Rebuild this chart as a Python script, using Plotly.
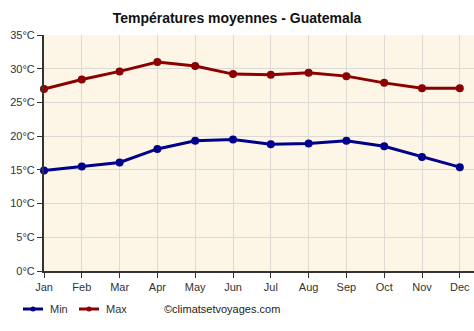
import plotly.graph_objects as go

# Monthly average temperatures, Guatemala (°C)
months = ["Jan", "Feb", "Mar", "Apr", "May", "Jun",
          "Jul", "Aug", "Sep", "Oct", "Nov", "Dec"]
temp_min = [14.9, 15.5, 16.1, 18.1, 19.3, 19.5, 18.8, 18.9, 19.3, 18.5, 16.9, 15.4]
temp_max = [27.0, 28.4, 29.6, 31.0, 30.4, 29.2, 29.1, 29.4, 28.9, 27.9, 27.1, 27.1]
y_ticks = [0, 5, 10, 15, 20, 25, 30, 35]

MIN_COLOR = "#00008B"
MAX_COLOR = "#8B0000"
FONT = "Liberation Sans, Arial, sans-serif"

W, H = 474, 331
L, R, T, B = 44, 0, 35, 60
PW, PH = W - L - R, H - T - B

fig = go.Figure()
x_idx = list(range(len(months)))
for name, vals, color in [("Min", temp_min, MIN_COLOR), ("Max", temp_max, MAX_COLOR)]:
    fig.add_trace(go.Scatter(
        x=x_idx, y=vals, name=name, mode="lines+markers",
        line=dict(color=color, width=3),
        marker=dict(color=color, size=8),
        showlegend=False, cliponaxis=False,
    ))

px_per_month = 37.8
x_max = PW / px_per_month

fig.update_layout(
    width=W, height=H,
    margin=dict(l=L, r=R, t=T, b=B),
    paper_bgcolor="white",
    plot_bgcolor="#FDF5E6",
    font=dict(family=FONT, size=11, color="#333333"),
    title=dict(text="<b>Températures moyennes - Guatemala</b>",
               x=0.5, xanchor="center", y=1 - 18 / H, yanchor="middle",
               font=dict(size=14, color="#111111")),
    xaxis=dict(
        range=[0, x_max], tickmode="array", tickvals=x_idx, ticktext=months,
        showgrid=True, gridcolor="#DDDAD5", gridwidth=1,
        showline=True, linecolor="#333333", linewidth=2,
        ticks="outside", ticklen=5, tickcolor="#333333", tickwidth=1,
        zeroline=False, fixedrange=True,
    ),
    yaxis=dict(
        range=[0, 35], tickmode="array", tickvals=y_ticks,
        ticktext=[f"{v}°C" for v in y_ticks],
        showgrid=True, gridcolor="#DDDAD5", gridwidth=1,
        showline=True, linecolor="#333333", linewidth=2,
        ticks="outside", ticklen=5, tickcolor="#333333", tickwidth=1,
        zeroline=False, fixedrange=True,
    ),
)

# Legend drawn along the bottom, positioned in page pixels
def pxx(x):
    return (x - L) / PW

def pxy(y):
    return (H - B - y) / PH

legend_row = 309
for (x0, x1, label, color) in [(23, 43, "Min", MIN_COLOR), (79, 99, "Max", MAX_COLOR)]:
    fig.add_shape(type="line", xref="paper", yref="paper",
                  x0=pxx(x0), x1=pxx(x1), y0=pxy(legend_row), y1=pxy(legend_row),
                  line=dict(color=color, width=3))
    cx, r = (x0 + x1) / 2, 2.5
    fig.add_shape(type="circle", xref="paper", yref="paper",
                  x0=pxx(cx - r), x1=pxx(cx + r),
                  y0=pxy(legend_row + r), y1=pxy(legend_row - r),
                  fillcolor=color, line=dict(color=color, width=0))
    fig.add_annotation(text=label, xref="paper", yref="paper",
                       x=pxx(x1 + 5), y=pxy(legend_row), xanchor="left", yanchor="middle",
                       showarrow=False, font=dict(size=11, color="#333333"))

fig.add_annotation(text="©climatsetvoyages.com", xref="paper", yref="paper",
                   x=pxx(162), y=pxy(legend_row), xanchor="left", yanchor="middle",
                   showarrow=False, font=dict(size=11, color="#222222"))

fig.write_html("out.html")
